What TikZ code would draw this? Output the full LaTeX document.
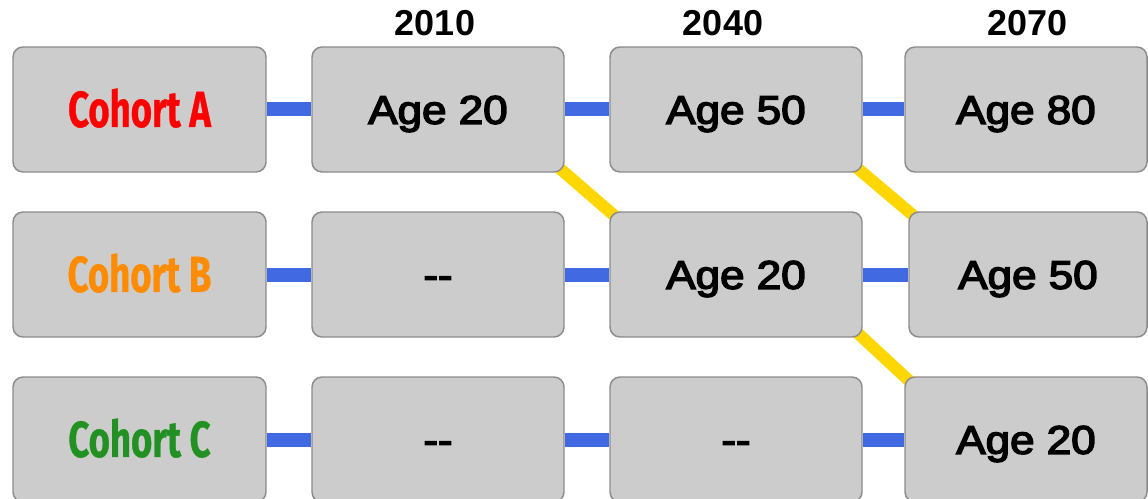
\documentclass[tikz,border=0pt]{standalone}
\usepackage{fontspec}
\setmainfont{Liberation Sans}
\newfontfamily\agefont[FakeBold=3.5]{Liberation Sans}
\newfontfamily\cohortfont[BoldFeatures={FakeBold=0.8}]{Fira Sans}
\usetikzlibrary{backgrounds}
\definecolor{boxfill}{HTML}{CCCCCC}
\definecolor{boxline}{HTML}{8C8C8C}
\definecolor{linkblue}{HTML}{4169E1}
\definecolor{linkgold}{HTML}{FFD700}
\definecolor{cohortred}{HTML}{FF0000}
\definecolor{cohortorange}{HTML}{FF8C00}
\definecolor{cohortgreen}{HTML}{229022}
\newcommand{\agetext}[1]{\scalebox{1.1}[1]{#1}}
\newcommand{\cohorttext}[1]{\scalebox{0.72}[1]{\bfseries #1}}
\begin{document}
\begin{tikzpicture}[x=0.75pt,y=-0.75pt,
  cell/.style={draw=boxline, line width=1.1pt, fill=boxfill, rounded corners=7.5pt,
    minimum width=252*0.75pt, minimum height=125*0.75pt, inner sep=0pt,
    text depth=0pt, anchor=center},
  agecell/.style={cell, font=\agefont\fontsize{30pt}{30pt}\selectfont, text height=21.5pt},
  cohortcell/.style={cell, minimum width=253*0.75pt,
    font=\cohortfont\fontsize{38pt}{38pt}\selectfont, text height=26.2pt},
  year/.style={font=\bfseries\fontsize{27pt}{27pt}\selectfont, text height=19.3pt,
    text depth=0pt, inner sep=0pt},
  bluelink/.style={draw=linkblue, line width=10.5pt},
  goldlink/.style={draw=linkgold, line width=9pt, shorten <=-6pt, shorten >=-6pt}]
\useasboundingbox (0,0) rectangle (1148,499);

% years
\node[year] (y2010) at (435,22.5) {2010};
\node[year] (y2040) at (723,22.5) {2040};
\node[year] (y2070) at (1027.5,22.5) {2070};

% row A
\node[cohortcell, text=cohortred] (A0) at (139.5,109.5) {\cohorttext{Cohort A}};
\node[agecell] (A1) at (438,109.5) {\agetext{Age 20}};
\node[agecell] (A2) at (736,109.5) {\agetext{Age 50}};
\node[agecell, minimum width=242*0.75pt] (A3) at (1026,109.5) {\agetext{Age 80}};

% row B
\node[cohortcell, text=cohortorange] (B0) at (139.5,274.5) {\cohorttext{Cohort B}};
\node[agecell] (B1) at (438,274.5) {\agetext{--}};
\node[agecell] (B2) at (736,274.5) {\agetext{Age 20}};
\node[agecell, minimum width=238*0.75pt] (B3) at (1028,274.5) {\agetext{Age 50}};

% row C
\node[cohortcell, text=cohortgreen] (C0) at (139.5,439.5) {\cohorttext{Cohort C}};
\node[agecell] (C1) at (438,439.5) {\agetext{--}};
\node[agecell] (C2) at (736,439.5) {\agetext{--}};
\node[agecell, minimum width=242*0.75pt] (C3) at (1026,439.5) {\agetext{Age 20}};

\begin{scope}[on background layer]
  \draw[bluelink] (A0) -- (A1);
  \draw[bluelink] (A1) -- (A2);
  \draw[bluelink] (A2) -- (A3);
  \draw[bluelink] (B0) -- (B1);
  \draw[bluelink] (B1) -- (B2);
  \draw[bluelink] (B2) -- (B3);
  \draw[bluelink] (C0) -- (C1);
  \draw[bluelink] (C1) -- (C2);
  \draw[bluelink] (C2) -- (C3);
  \draw[goldlink] (A1.south east) -- (B2.north west);
  \draw[goldlink] (A2.south east) -- (B3.north west);
  \draw[goldlink] (B2.south east) -- (C3.north west);
\end{scope}
\end{tikzpicture}
\end{document}
